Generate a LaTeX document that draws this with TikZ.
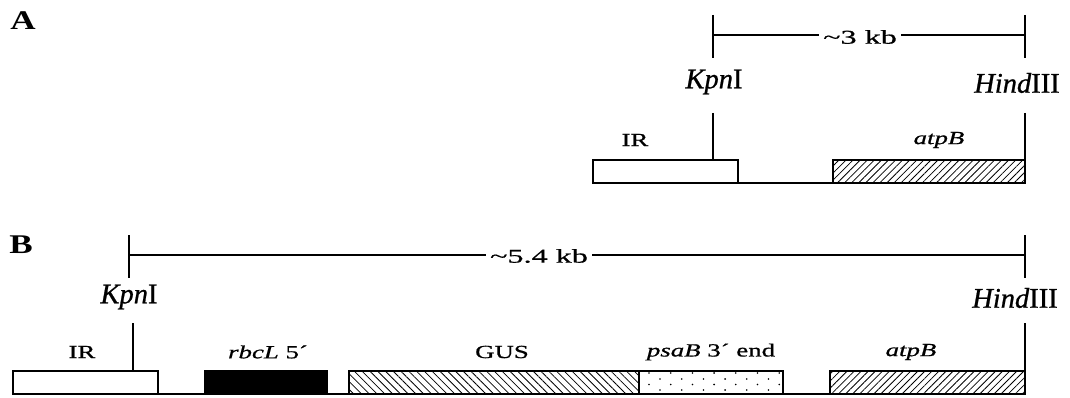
\documentclass[tikz,border=0pt]{standalone}
\usepackage{fontspec}
\setmainfont{Liberation Serif}
\newfontfamily\widefont[FakeStretch=1.45,FakeBold=0.8]{Liberation Serif}
\newfontfamily\widerfont[FakeStretch=1.65,FakeBold=0.8]{Liberation Serif}
\newfontfamily\sitefont[FakeBold=0.8]{Liberation Serif}
\newfontfamily\panelfont[FakeStretch=1.3]{Liberation Serif}
\usetikzlibrary{patterns.meta}
\begin{document}
\begin{tikzpicture}[x=1pt,y=-1pt,
  ln/.style={line width=1.3pt},
  genebox/.style={draw, line width=1.3pt, anchor=north west, inner sep=0pt, outer sep=0pt, minimum height=23pt},
  genelabel/.style={inner sep=0pt, font=\widefont\fontsize{18.5}{20}\selectfont},
  kblabel/.style={inner sep=0pt, font=\widerfont\fontsize{19.5}{21}\selectfont, fill=white, inner xsep=4pt},
  sitelabel/.style={inner sep=0pt, font=\sitefont\fontsize{28.5}{30}\selectfont},
  panellabel/.style={inner sep=0pt, font=\panelfont\bfseries\fontsize{27}{29}\selectfont},
  nehatch/.style={pattern={Lines[angle=45,distance=5pt,line width=0.8pt]}},
  nwhatch/.style={pattern={Lines[angle=-45,distance=5.5pt,line width=0.8pt]}},
]
\useasboundingbox (0,0) rectangle (1070,398);

% ---------- Panel A ----------
\node[panellabel] (A) at (23,21) {A};

\coordinate (kAt) at (713,15);
\coordinate (kAb) at (713,58);
\coordinate (kAl) at (713,35);
\coordinate (hAt) at (1025,15);
\coordinate (hAb) at (1025,58);
\coordinate (hAl) at (1025,35);
\draw[ln] (kAt) -- (kAb);
\draw[ln] (hAt) -- (hAb);
\node[kblabel] (kbA) at (860,37) {\~{}3 kb};
\draw[ln] (kAl) -- (kbA.west |- kAl);
\draw[ln] (kbA.east |- hAl) -- (hAl);

\node[sitelabel] (kpnA) at (714,82) {\textit{Kpn}I};
\node[sitelabel] (hindA) at (1017,83) {\textit{Hind}III};

\node[genebox, minimum width=145pt] (irA) at (593,160) {};
\node[genebox, minimum width=192pt, nehatch] (atpA) at (833,160) {};
\draw[ln] (irA.south east) -- (atpA.south west);

\coordinate (kAs) at (713,113);
\coordinate (hAs) at (1025,113);
\draw[ln] (kAs) -- (kAs |- irA.north);
\draw[ln] (hAs) -- (atpA.north east);

\node[genelabel] (irAl) at (635,140) {IR};
\node[genelabel] (atpAl) at (939,140) {\textit{atpB}};

% ---------- Panel B ----------
\node[panellabel] (B) at (21,245) {B};

\coordinate (kBt) at (129,235);
\coordinate (kBb) at (129,278);
\coordinate (kBl) at (129,255);
\coordinate (hBt) at (1025,235);
\coordinate (hBb) at (1025,278);
\coordinate (hBl) at (1025,255);
\draw[ln] (kBt) -- (kBb);
\draw[ln] (hBt) -- (hBb);
\node[kblabel] (kbB) at (539,256) {\~{}5.4 kb};
\draw[ln] (kBl) -- (kbB.west |- kBl);
\draw[ln] (kbB.east |- hBl) -- (hBl);

\node[sitelabel] (kpnB) at (129,297) {\textit{Kpn}I};
\node[sitelabel] (hindB) at (1015,298) {\textit{Hind}III};

\node[genebox, minimum width=145pt] (irB) at (13,371) {};
\node[genebox, minimum width=122pt, fill=black] (rbcB) at (205,371) {};
\node[genebox, minimum width=290pt, nwhatch] (gusB) at (349,371) {};
\node[genebox, minimum width=144pt] (psaB) at (639,371) {};
\node[genebox, minimum width=195pt, nehatch] (atpB) at (830,371) {};

% dots of psaB
\begin{scope}
  \clip (639,371) rectangle (783,394);
  \foreach \k in {0,...,6} {
    \fill (649+21.7*\k,373) circle (0.9);
    \fill (660+21.7*\k,379) circle (0.9);
    \fill (649+21.7*\k,384.5) circle (0.9);
    \fill (660+21.7*\k,390) circle (0.9);
  }
\end{scope}
\draw[ln] (psaB.north west) rectangle (psaB.south east);

\draw[ln] (irB.south east) -- (rbcB.south west);
\draw[ln] (rbcB.south east) -- (gusB.south west);
\draw[ln] (psaB.south east) -- (atpB.south west);

\coordinate (kBs) at (133,323);
\coordinate (hBs) at (1025,323);
\draw[ln] (kBs) -- (kBs |- irB.north);
\draw[ln] (hBs) -- (atpB.north east);

\node[genelabel] (irBl) at (82,352) {IR};
\node[genelabel] (rbcBl) at (268,352) {\textit{rbcL} 5´};
\node[genelabel] (gusBl) at (502,352) {GUS};
\node[genelabel] (psaBl) at (711,352) {\textit{psaB} 3´ end};
\node[genelabel] (atpBl) at (911,352) {\textit{atpB}};
\end{tikzpicture}
\end{document}
